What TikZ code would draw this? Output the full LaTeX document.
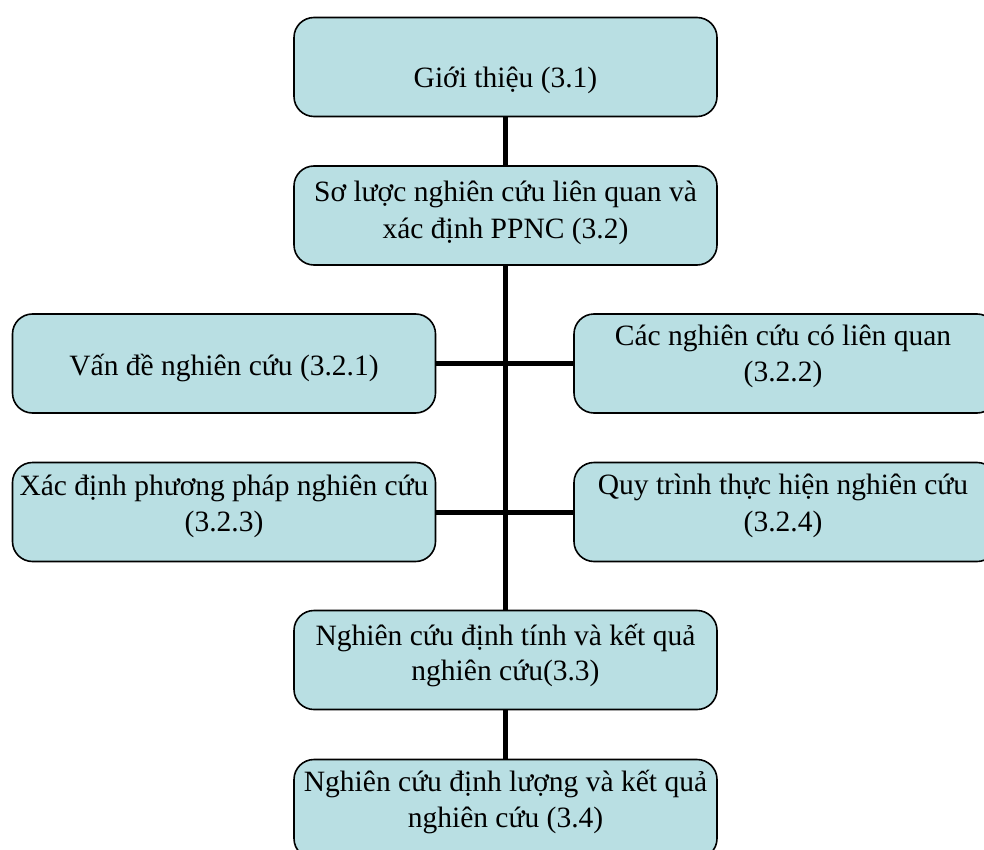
\documentclass[tikz,border=0pt]{standalone}
\usepackage{fontspec}
\setmainfont{Liberation Serif}
\definecolor{boxfill}{RGB}{185,223,227}
\tikzset{
  box/.style={draw=black, line width=1.6pt, fill=boxfill, rounded corners=20pt,
    minimum width=423pt, minimum height=99pt, inner sep=0pt, outer sep=0pt},
  txt/.style={anchor=base, inner sep=0pt, font=\fontsize{29.5pt}{36.5pt}\selectfont},
  conn/.style={line width=5pt, black}
}
\begin{document}
\begin{tikzpicture}[x=1pt, y=-1pt]
\useasboundingbox (0,0) rectangle (984,850);
\clip (0,0) rectangle (984,850);
% connectors underneath boxes
\node[box] (b1) at (505.5,67) {};
\node[box] (b2) at (505.5,215.5) {};
\node[box] (b3) at (224,363.5) {};
\node[box] (b4) at (785.5,363.5) {};
\node[box] (b5) at (224,512) {};
\node[box] (b6) at (785.5,512) {};
\node[box] (b7) at (505.5,660) {};
\node[box] (b8) at (505.5,809) {};
\draw[conn] (b1.south) -- (b2.north);
\draw[conn] (b2.south) -- (b7.north);
\draw[conn] (b7.south) -- (b8.north);
\draw[conn] (b3.east) -- (b3.east -| b2.south);
\draw[conn] (b3.east -| b2.south) -- (b4.west);
\draw[conn] (b5.east) -- (b5.east -| b2.south);
\draw[conn] (b5.east -| b2.south) -- (b6.west);
% texts
\node[txt] (t1) at (505.5,88) {Giới thiệu (3.1)};
\node[txt] (t2a) at (505.5,201.7) {Sơ lược nghiên cứu liên quan và};
\node[txt] (t2b) at (505.5,238.3) {xác định PPNC (3.2)};
\node[txt] (t3) at (224,375) {Vấn đề nghiên cứu (3.2.1)};
\node[txt] (t4a) at (783,345) {Các nghiên cứu có liên quan};
\node[txt] (t4b) at (783,381.7) {(3.2.2)};
\node[txt] (t5a) at (224,495) {Xác định phương pháp nghiên cứu};
\node[txt] (t5b) at (224,531.7) {(3.2.3)};
\node[txt] (t6a) at (783,494.3) {Quy trình thực hiện nghiên cứu};
\node[txt] (t6b) at (783,531) {(3.2.4)};
\node[txt] (t7a) at (505.5,645) {Nghiên cứu định tính và kết quả};
\node[txt] (t7b) at (505.5,680.7) {nghiên cứu(3.3)};
\node[txt] (t8a) at (505.5,791.7) {Nghiên cứu định lượng và kết quả};
\node[txt] (t8b) at (505.5,827.3) {nghiên cứu (3.4)};
\end{tikzpicture}
\end{document}
